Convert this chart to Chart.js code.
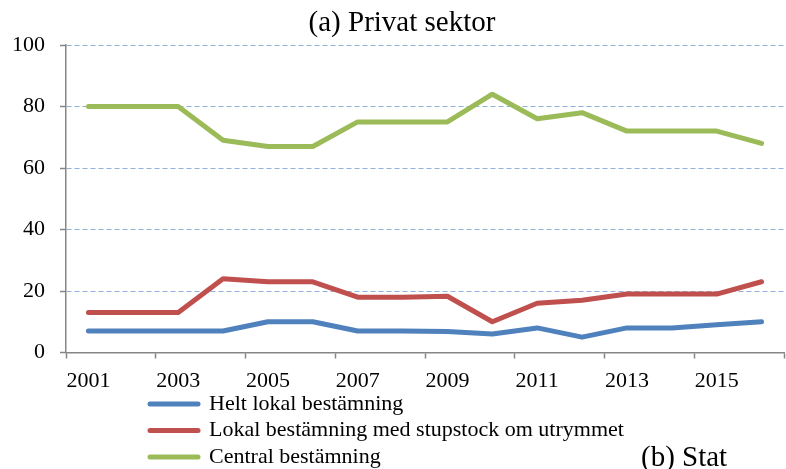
<!DOCTYPE html>
<html>
<head>
<meta charset="utf-8">
<script src="https://cdn.jsdelivr.net/npm/chart.js@4"></script>
<style>
    html, body { margin: 0; padding: 0; background: #fff; }
</style>
</head>
<body>
<canvas id="chart" width="786" height="469"></canvas>
<script>
// Andel anställda per lönebildningsmodell, privat sektor
const years = ['2001', '2002', '2003', '2004', '2005', '2006', '2007', '2008',
               '2009', '2010', '2011', '2012', '2013', '2014', '2015', '2016'];
const heltLokal = [7, 7, 7, 7, 10, 10, 7, 7, 6.8, 6, 8, 5, 8, 8, 9, 10];
const lokalStupstock = [13, 13, 13, 24, 23, 23, 18, 18, 18.3, 10, 16, 17, 19, 19, 19, 23];
const central = [80, 80, 80, 69, 67, 67, 75, 75, 75, 84, 76, 78, 72, 72, 72, 68];
const seriesNames = ['Helt lokal bestämning', 'Lokal bestämning med stupstock om utrymmet', 'Central bestämning'];
const chartTitle = '(a) Privat sektor';
const nextPanelTitle = '(b) Stat';

const BLUE = '#4F81BD', RED = '#C0504D', GREEN = '#9BBB59';
const AXIS = '#868686', GRID = '#8FB0DA';
const SERIF = '"Liberation Serif", "Times New Roman", serif';

Chart.defaults.font.family = SERIF;
Chart.defaults.color = '#000';

function lineSet(label, data, color) {
    return {
        label, data,
        borderColor: color,
        backgroundColor: color,
        borderWidth: 5,
        borderCapStyle: 'round',
        borderJoinStyle: 'round',
        pointRadius: 0,
        pointHoverRadius: 0,
        tension: 0,
        fill: false,
    };
}

// legend sits under the axis, items stacked and left aligned; next panel's heading peeks in at the bottom
const layoutTweaks = {
    id: 'layoutTweaks',
    afterLayout(chart) {
        const lg = chart.legend;
        const dx = 150 - (lg.left + lg.options.labels.padding);
        lg.left += dx; lg.right += dx;
        const top = chart.chartArea.bottom + 36;
        lg.bottom += top - lg.top; lg.top = top;
        // title is centred a little right of the canvas middle
        chart.titleBlock.left += 5;
        chart.titleBlock.right += 5;
    },
    afterDraw(chart) {
        const ctx = chart.ctx;
        ctx.save();
        ctx.font = '29px ' + SERIF;
        ctx.fillStyle = '#000';
        ctx.textBaseline = 'alphabetic';
        ctx.fillText(nextPanelTitle, 641, 466);
        ctx.restore();
    }
};

new Chart(document.getElementById('chart'), {
    type: 'line',
    data: {
        labels: years,
        datasets: [
            lineSet(seriesNames[0], heltLokal, BLUE),
            lineSet(seriesNames[1], lokalStupstock, RED),
            lineSet(seriesNames[2], central, GREEN),
        ]
    },
    options: {
        responsive: false,
        animation: false,
        layout: { padding: { left: 10, right: 2, top: 0, bottom: -16 } },
        scales: {
            x: {
                offset: true,
                afterFit: s => { s.height = 43; },
                grid: {
                    offset: true,
                    drawOnChartArea: false,
                    tickLength: 6,
                    tickWidth: 1.5,
                    tickColor: c => (c.type !== 'tick' || c.index % 2 === 0) ? AXIS : 'rgba(0,0,0,0)',
                },
                border: { color: AXIS, width: 1.5 },
                ticks: {
                    autoSkip: false,
                    maxRotation: 0,
                    padding: 10,
                    font: { size: 22 },
                    callback: (v, i) => i % 2 === 0 ? years[i] : '',
                },
            },
            y: {
                min: 0,
                max: 100,
                afterFit: s => { s.width = 56; },
                grid: { color: GRID, lineWidth: 1, tickColor: AXIS, tickLength: 6, tickWidth: 1.5 },
                border: { color: AXIS, width: 1.5, dash: [5, 3] },
                ticks: { stepSize: 20, padding: 15, font: { size: 22 } },
            }
        },
        plugins: {
            title: {
                display: true,
                text: chartTitle,
                font: { size: 29, weight: 'normal' },
                padding: { top: 6, bottom: 4.2 },
            },
            legend: {
                position: 'bottom',
                align: 'start',
                fullSize: false,
                labels: {
                    usePointStyle: true,
                    pointStyle: 'line',
                    pointStyleWidth: 48,
                    padding: 4.5,
                    font: { size: 22 },
                    color: '#000',
                    generateLabels: chart => Chart.defaults.plugins.legend.labels.generateLabels(chart)
                        .map(item => ({
                            ...item,
                            strokeStyle: chart.data.datasets[item.datasetIndex].borderColor,
                            lineWidth: 5,
                            lineCap: 'round',
                        })),
                },
            },
            tooltip: { enabled: false },
        }
    },
    plugins: [layoutTweaks]
});
</script>
</body>
</html>
